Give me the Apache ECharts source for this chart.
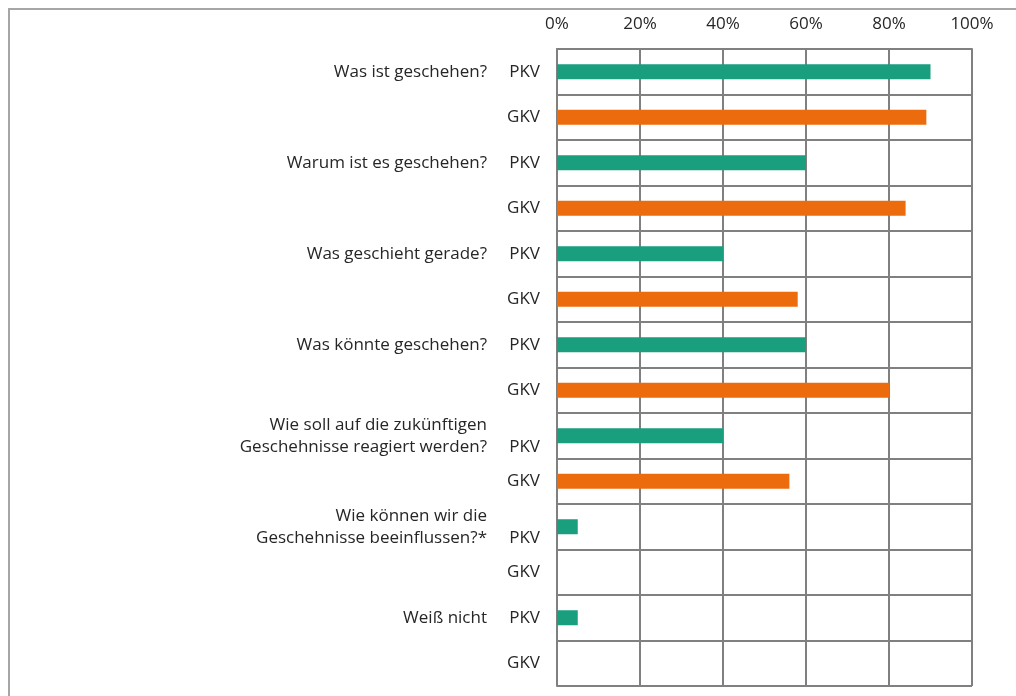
<!DOCTYPE html>
<html>
<head>
<meta charset="utf-8">
<script src="https://cdn.jsdelivr.net/npm/echarts@6/dist/echarts.min.js"></script>
<style>
  html, body { margin: 0; padding: 0; background: #fff; }
  #chart { width: 1016px; height: 696px; }
</style>
</head>
<body>
<div id="chart"></div>
<script>
// Fragen (je eine Zeile PKV + eine Zeile GKV)
const questions = [
  "Was ist geschehen?",
  "Warum ist es geschehen?",
  "Was geschieht gerade?",
  "Was könnte geschehen?",
  "Wie soll auf die zukünftigen\nGeschehnisse reagiert werden?",
  "Wie können wir die\nGeschehnisse beeinflussen?*",
  "Weiß nicht"
];
const groups = ["PKV", "GKV"];
const pkvValues = [90, 60, 40, 60, 40, 5, 5];
const gkvValues = [89, 84, 58, 80, 56, 0, 0];
const xTicks = [0, 20, 40, 60, 80, 100];

const textColor = "#262626";
const gridColor = "#808080";
const fontSize = 17;

// 14 Zeilen aufbauen
const rows = [];
const groupLabels = [];
const questionLabels = [];
const pkvData = [];
const gkvData = [];
questions.forEach((q, i) => {
  const multi = q.indexOf("\n") >= 0;
  rows.push("p" + i, "g" + i);
  groupLabels.push((multi ? "\n" : "") + groups[0], groups[1]);
  questionLabels.push(q, "");
  pkvData.push(pkvValues[i], "-");
  gkvData.push("-", gkvValues[i]);
});

const chart = echarts.init(document.getElementById("chart"));
const option = {
  animation: false,
  textStyle: { fontFamily: "Open Sans", color: textColor },
  graphic: [
    {
      type: "rect",
      shape: { x: 9, y: 9, width: 1200, height: 900 },
      style: { fill: "none", stroke: "#a6a6a6", lineWidth: 2 },
      silent: true
    }
  ],
  grid: { left: 557, right: 44, top: 49, bottom: 10 },
  xAxis: {
    type: "value",
    position: "top",
    min: xTicks[0],
    max: xTicks[xTicks.length - 1],
    interval: 20,
    axisLine: { show: true, lineStyle: { color: gridColor, width: 2 } },
    axisTick: { show: false },
    axisLabel: {
      color: textColor,
      fontSize: fontSize,
      margin: 16,
      formatter: "{value}%"
    },
    splitLine: { show: true, lineStyle: { color: gridColor, width: 2 } }
  },
  yAxis: [
    {
      type: "category",
      inverse: true,
      data: rows,
      axisLine: { show: true, lineStyle: { color: gridColor, width: 2 } },
      axisTick: { show: false },
      splitLine: { show: true, lineStyle: { color: gridColor, width: 2 } },
      axisLabel: {
        color: textColor,
        fontSize: fontSize,
        lineHeight: 22,
        margin: 17,
        formatter: (v, idx) => groupLabels[idx]
      }
    },
    {
      type: "category",
      inverse: true,
      position: "left",
      data: rows,
      axisLine: { show: false },
      axisTick: { show: false },
      splitLine: { show: false },
      axisLabel: {
        color: textColor,
        fontSize: fontSize,
        lineHeight: 22,
        margin: 70,
        align: "right",
        formatter: (v, idx) => questionLabels[idx]
      }
    }
  ],
  series: [
    {
      name: "PKV",
      type: "bar",
      data: pkvData,
      barWidth: 15,
      barGap: "-100%",
      itemStyle: { color: "#199e7e" }
    },
    {
      name: "GKV",
      type: "bar",
      data: gkvData,
      barWidth: 15,
      barGap: "-100%",
      itemStyle: { color: "#ec6c0d" }
    }
  ]
};
chart.setOption(option);
</script>
</body>
</html>
